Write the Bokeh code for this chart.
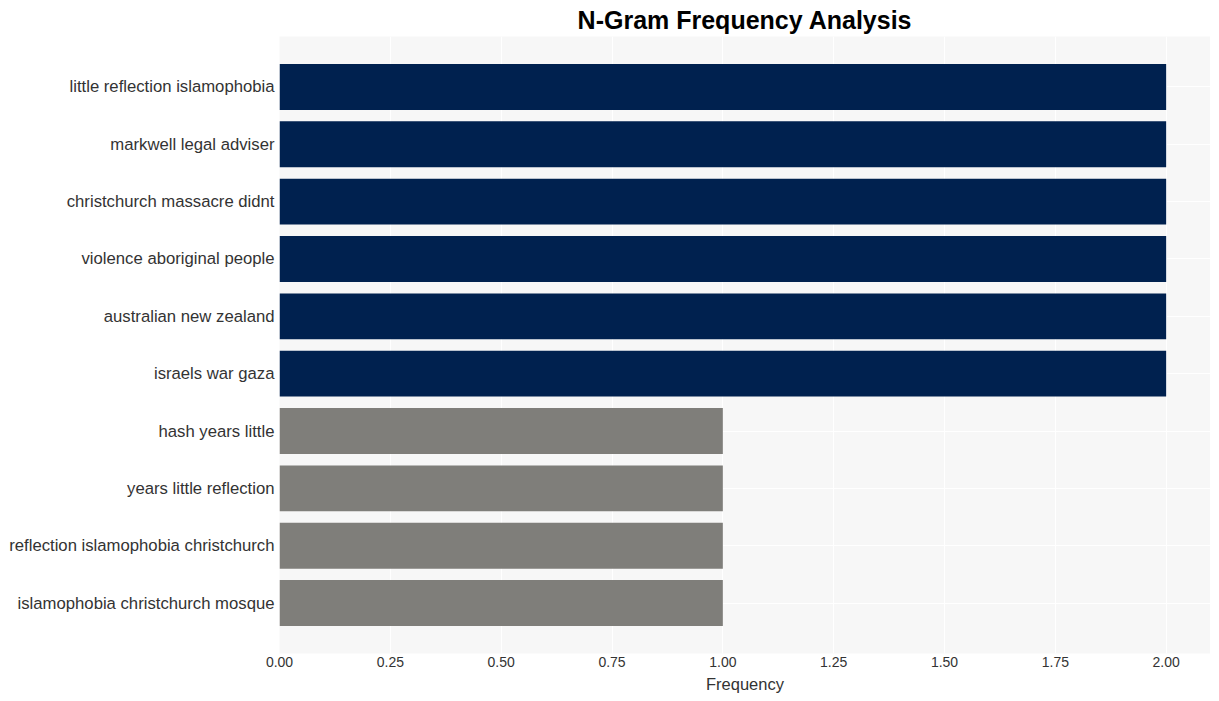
from bokeh.plotting import figure
from bokeh.models import FactorRange, Range1d, FixedTicker
from bokeh.embed import file_html
from bokeh.resources import INLINE

ngrams = [
    "little reflection islamophobia",
    "markwell legal adviser",
    "christchurch massacre didnt",
    "violence aboriginal people",
    "australian new zealand",
    "israels war gaza",
    "hash years little",
    "years little reflection",
    "reflection islamophobia christchurch",
    "islamophobia christchurch mosque",
]
counts = [2, 2, 2, 2, 2, 2, 1, 1, 1, 1]
x_ticks = [0.0, 0.25, 0.5, 0.75, 1.0, 1.25, 1.5, 1.75, 2.0]

NAVY = "#00214f"
GRAY = "#7f7e7a"
colors = [NAVY if c >= 2 else GRAY for c in counts]

factors = list(reversed(ngrams))

p = figure(
    width=1210, height=695,
    y_range=FactorRange(factors=factors, range_padding=0.38, range_padding_units="absolute"),
    x_range=Range1d(0, 2.1),
    output_backend="svg", toolbar_location=None,
    min_border_left=279, min_border_right=0, min_border_top=0, min_border_bottom=0,
)

p.hbar(y=ngrams, right=counts, left=0, height=0.8, color=colors, line_color=None)

p.title.text = "N-Gram Frequency Analysis"
p.title.align = "center"
p.title.text_font = "Liberation Sans"
p.title.text_font_size = "25px"
p.title.text_font_style = "bold"
p.title.text_color = "#000000"
p.title.offset = 0
p.title.standoff = 6

p.background_fill_color = "#f7f7f7"
p.border_fill_color = "#ffffff"
p.outline_line_color = None

p.xgrid.grid_line_color = "#ffffff"
p.xgrid.grid_line_width = 1
p.ygrid.grid_line_color = "#ffffff"
p.ygrid.grid_line_width = 1

p.xaxis.ticker = FixedTicker(ticks=x_ticks)
p.xaxis.major_label_overrides = {t: f"{t:.2f}" for t in x_ticks}
p.xaxis.axis_label = "Frequency"
p.xaxis.axis_label_text_font = "Liberation Sans"
p.xaxis.axis_label_text_font_style = "normal"
p.xaxis.axis_label_text_font_size = "16.5px"
p.xaxis.axis_label_text_color = "#333333"
p.xaxis.axis_label_text_line_height = 1.0
p.xaxis.axis_label_standoff = 5
p.xaxis.major_label_text_font = "Liberation Sans"
p.xaxis.major_label_text_font_size = "14px"
p.xaxis.major_label_text_color = "#333333"
p.xaxis.major_label_text_line_height = 1.0
p.xaxis.major_label_standoff = 3

p.yaxis.major_label_text_font = "Liberation Sans"
p.yaxis.major_label_text_font_size = "16.7px"
p.yaxis.major_label_text_color = "#333333"
p.yaxis.major_label_standoff = 5

for ax in (p.xaxis, p.yaxis):
    ax.axis_line_color = None
    ax.major_tick_line_color = None
    ax.minor_tick_line_color = None
    ax.major_tick_out = 0
    ax.major_tick_in = 0

open("out.html", "w").write(file_html(p, INLINE))
